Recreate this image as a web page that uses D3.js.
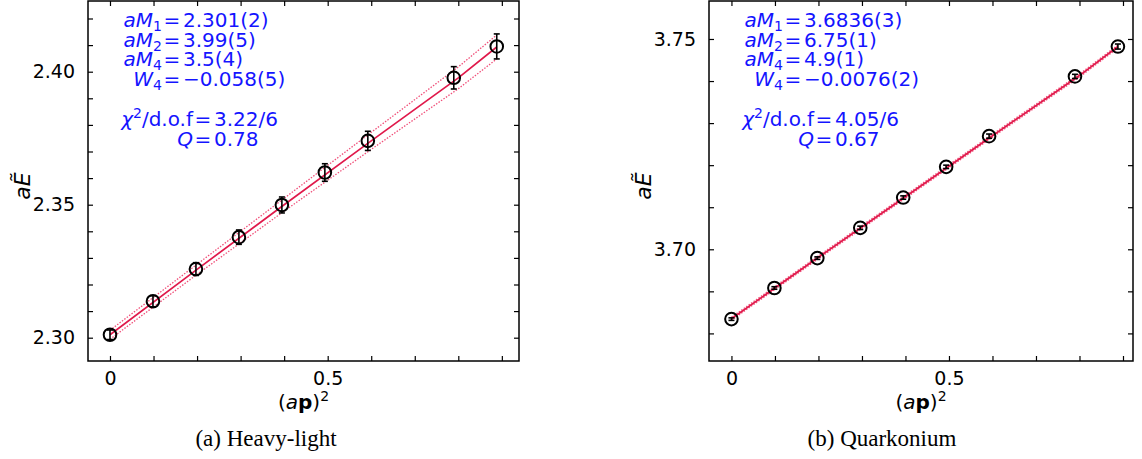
<!DOCTYPE html>
<html>
<head>
<meta charset="utf-8">
<script src="https://cdn.jsdelivr.net/npm/d3@7"></script>
<style>
  body { margin: 0; background: #fff; }
  svg { display: block; }
</style>
</head>
<body>
<div id="graphwindow"></div>
<script>
// momentum values (a p)^2, common to both panels
const momenta = [0, 0.0987, 0.1974, 0.2961, 0.3948, 0.4935, 0.5922, 0.7896, 0.8883];

// heavy-light energies and errors
const energyHL = [2.3011, 2.3137, 2.3258, 2.3378, 2.3499, 2.3621, 2.3740, 2.3977, 2.4095];
const errorHL = [0.0018, 0.0021, 0.0024, 0.0027, 0.0030, 0.0033, 0.0036, 0.0042, 0.0047];

// quarkonium energies and errors
const energyQ = [3.6834, 3.6908, 3.6979, 3.7051, 3.7123, 3.7196, 3.7269, 3.7411, 3.7482];
const errorQ = [0.0003, 0.0003, 0.0003, 0.0004, 0.0004, 0.0004, 0.0005, 0.0005, 0.0006];

// fit curves (central value and half width of the band)
const fitX = [0, 0.2, 0.4, 0.6, 0.8, 0.8883];
const fitHL = [2.3011, 2.3257, 2.3500, 2.3740, 2.3977, 2.4093];
const bandHL = [0.0017, 0.0019, 0.0024, 0.0032, 0.0041, 0.0045];
const fitQ = [3.6835, 3.6981, 3.7125, 3.7270, 3.7413, 3.7482];
const bandQ = [0.00035, 0.00035, 0.00035, 0.00035, 0.00035, 0.00035];

// ticks
const xTicks = [0, 0.1, 0.2, 0.3, 0.4, 0.5, 0.6, 0.7, 0.8, 0.9];
const xTickLabels = [0, 0.5];
const yTicksHL = [2.30, 2.31, 2.32, 2.33, 2.34, 2.35, 2.36, 2.37, 2.38, 2.39, 2.40, 2.41, 2.42];
const yTickLabelsHL = [2.30, 2.35, 2.40];
const yTicksQ = [3.68, 3.69, 3.70, 3.71, 3.72, 3.73, 3.74, 3.75];
const yTickLabelsQ = [3.70, 3.75];

// fit results printed in the plots
const fitTextHL = ["2.301(2)", "3.99(5)", "3.5(4)", "\u22120.058(5)", "3.22/6", "0.78"];
const fitTextQ = ["3.6836(3)", "6.75(1)", "4.9(1)", "\u22120.0076(2)", "4.05/6", "0.67"];
const captions = ["(a) Heavy-light", "(b) Quarkonium"];

const svg = d3
  .select("#graphwindow")
  .append("svg")
  .attr("width", 1142)
  .attr("height", 459);

// small helper: rich text with italic / bold / sub / sup parts
function rich(sel, parts) {
  let shift = 0;
  parts.forEach(function (p) {
    const t = sel.append("tspan").text(p[0]);
    const target = p[1] === "sub" ? 4 : p[1] === "sup" ? -8 : 0;
    t.attr("dy", target - shift);
    shift = target;
    if (p[1] === "i") t.style("font-style", "italic");
    if (p[1] === "b") t.style("font-weight", "bold");
    if (p[1] === "sub" || p[1] === "sup") t.style("font-size", "0.7em");
  });
  return shift;
}

const lhsParts = [
  [["a", "i"], ["M", "i"], ["1", "sub"]],
  [["a", "i"], ["M", "i"], ["2", "sub"]],
  [["a", "i"], ["M", "i"], ["4", "sub"]],
  [["W", "i"], ["4", "sub"]],
  [["\u03c7", "i"], ["2", "sup"], ["/d.o.f", ""]],
  [["Q", "i"]],
];
const rowY = [26, 45.5, 65, 84.5, 125, 144.5];

function panel(p) {
  const width = p.right - p.left,
    height = p.bottom - p.top;
  const g = svg.append("g").attr("transform", "translate(" + p.left + "," + p.top + ")");

  const x = d3.scaleLinear().domain(p.xDomain).range([0, width]);
  const y = d3.scaleLinear().domain(p.yDomain).range([height, 0]);

  const fmtY = d3.format(".2f");
  // axes, ticks pointing inwards
  g.append("g")
    .attr("transform", "translate(0," + height + ")")
    .call(d3.axisBottom(x).tickValues(xTicks).tickSizeInner(-5).tickSizeOuter(0).tickPadding(11)
      .tickFormat((d) => (xTickLabels.some((v) => Math.abs(v - d) < 1e-9) ? d3.format("")(d) : "")));
  g.append("g")
    .call(d3.axisTop(x).tickValues(xTicks).tickSizeInner(-5).tickSizeOuter(0).tickFormat(""));
  g.append("g")
    .call(d3.axisLeft(y).tickValues(p.yTicks).tickSizeInner(-5).tickSizeOuter(0).tickPadding(13)
      .tickFormat((d) => (p.yLabels.some((v) => Math.abs(v - d) < 1e-9) ? fmtY(d) : "")));
  g.append("g")
    .attr("transform", "translate(" + width + ",0)")
    .call(d3.axisRight(y).tickValues(p.yTicks).tickSizeInner(-5).tickSizeOuter(0).tickFormat(""));
  g.selectAll(".domain").remove();
  g.selectAll(".tick line").attr("stroke", "#000").attr("stroke-width", 1.2);
  g.selectAll(".tick text")
    .style("font-family", "DejaVu Sans")
    .style("font-size", "19px")
    .style("fill", "#000");

  // fit band and central line
  const fit = fitX.map((v, i) => ({ x: v, y: p.fit[i], e: p.band[i] }));
  const line = (off) => d3.line().x((d) => x(d.x)).y((d) => y(d.y + off * d.e));
  [-1, 1].forEach(function (s) {
    g.append("path")
      .datum(fit)
      .attr("d", line(s))
      .style("fill", "none")
      .style("stroke", "#f0507a")
      .style("stroke-width", 1.3)
      .style("stroke-dasharray", "1.5,1.5");
  });
  g.append("path")
    .datum(fit)
    .attr("d", line(0))
    .style("fill", "none")
    .style("stroke", "#e0194b")
    .style("stroke-width", 1.7);

  // data points with error bars
  const pts = momenta.map((v, i) => ({ x: v, y: p.energy[i], e: p.error[i] }));
  const pg = g.selectAll(".pt").data(pts).enter().append("g").attr("class", "pt");
  pg.append("line")
    .attr("x1", (d) => x(d.x)).attr("x2", (d) => x(d.x))
    .attr("y1", (d) => y(d.y - d.e)).attr("y2", (d) => y(d.y + d.e));
  [-1, 1].forEach(function (s) {
    pg.append("line")
      .attr("x1", (d) => x(d.x) - 3).attr("x2", (d) => x(d.x) + 3)
      .attr("y1", (d) => y(d.y + s * d.e)).attr("y2", (d) => y(d.y + s * d.e));
  });
  pg.selectAll("line").style("stroke", "#000").style("stroke-width", 1.6);
  pg.append("circle")
    .attr("cx", (d) => x(d.x))
    .attr("cy", (d) => y(d.y))
    .attr("r", 6.3)
    .style("fill", "none")
    .style("stroke", "#000")
    .style("stroke-width", 2);

  // frame
  g.append("rect")
    .attr("width", width)
    .attr("height", height)
    .style("fill", "none")
    .style("stroke", "#000")
    .style("stroke-width", 1.5);

  // fit results, one text per row, "=" signs lined up in two columns
  const ann = g.append("g").style("font-family", "DejaVu Sans").style("font-size", "20px").style("fill", "#1414ff");
  p.text.forEach(function (val, i) {
    const eq = i < 4 ? 84 : 115;
    const t = ann.append("text").attr("y", rowY[i]);
    const shift = rich(t, lhsParts[i]);
    const w = t.node().getComputedTextLength();
    t.attr("x", eq - 10 - w);
    t.append("tspan").attr("x", eq - 8.4).attr("dy", -shift).text("=");
    t.append("tspan").attr("x", eq + 11).text(val);
  });

  // axis titles
  const xt = g.append("text")
    .attr("x", width / 2)
    .attr("y", 409 - p.top)
    .attr("text-anchor", "middle")
    .style("font-family", "DejaVu Sans")
    .style("font-size", "20px");
  rich(xt, [["(", ""], ["a", "i"], ["p", "b"], [")", ""], ["2", "sup"]]);

  g.append("text")
    .attr("transform", "translate(-58," + (186 - p.top) + ") rotate(-90)")
    .attr("text-anchor", "middle")
    .style("font-family", "DejaVu Sans")
    .style("font-size", "22px")
    .style("font-style", "italic")
    .text("aE\u0303");

  // caption
  svg.append("text")
    .attr("x", p.capX)
    .attr("y", 446)
    .attr("text-anchor", "middle")
    .style("font-family", "Liberation Serif")
    .style("font-size", "23px")
    .text(p.caption);
}

panel({
  left: 88, right: 519, top: 1, bottom: 361,
  xDomain: [-0.0505, 0.9394], yDomain: [2.29124, 2.42658],
  yTicks: yTicksHL, yLabels: yTickLabelsHL,
  energy: energyHL, error: errorHL, fit: fitHL, band: bandHL,
  text: fitTextHL, caption: captions[0], capX: 266,
});
panel({
  left: 709, right: 1133, top: 1, bottom: 361,
  xDomain: [-0.0516, 0.9230], yDomain: [3.67344, 3.75903],
  yTicks: yTicksQ, yLabels: yTickLabelsQ,
  energy: energyQ, error: errorQ, fit: fitQ, band: bandQ,
  text: fitTextQ, caption: captions[1], capX: 882,
});
</script>
</body>
</html>
